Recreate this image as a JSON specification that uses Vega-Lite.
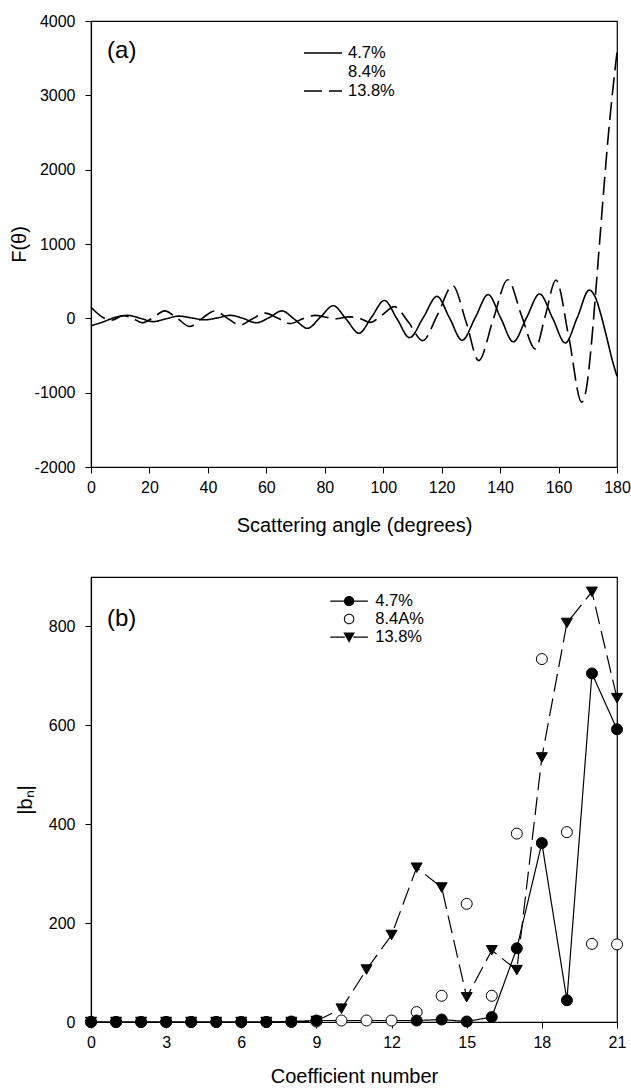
{
  "$schema": "https://vega.github.io/schema/vega-lite/v6.json",
  "background": "white",
  "padding": {"left": 8, "top": 12, "right": 0, "bottom": 0},
  "bounds": "flush",
  "spacing": 110,
  "config": {
    "font": "Liberation Sans",
    "view": {"stroke": "black", "strokeWidth": 1.2},
    "axis": {
      "grid": false,
      "domainColor": "black",
      "domainWidth": 1.2,
      "tickColor": "black",
      "tickWidth": 1,
      "tickSize": 6,
      "labelColor": "black",
      "labelFont": "Liberation Sans",
      "labelFontSize": 16,
      "titleFont": "Liberation Sans",
      "titleFontSize": 20,
      "titleFontWeight": "normal",
      "titleColor": "black",
      "labelFlush": false,
      "labelOverlap": false
    },
    "axisX": {"labelPadding": 6, "titlePadding": 16},
    "axisY": {"labelPadding": 10},
    "legend": {"labelFont": "Liberation Sans", "labelColor": "black"}
  },
  "vconcat": [
    {
      "width": 526,
      "height": 446,
      "layer": [
        {
          "data": {"values": [
            {"angle": 0, "series": "4.7%", "F": -100},
            {"angle": 4, "series": "4.7%", "F": -50},
            {"angle": 8, "series": "4.7%", "F": 10},
            {"angle": 12.5, "series": "4.7%", "F": 40},
            {"angle": 17, "series": "4.7%", "F": 0},
            {"angle": 21.3, "series": "4.7%", "F": -45},
            {"angle": 25.7, "series": "4.7%", "F": -5},
            {"angle": 30.1, "series": "4.7%", "F": 30},
            {"angle": 34.5, "series": "4.7%", "F": 5},
            {"angle": 38.9, "series": "4.7%", "F": -20},
            {"angle": 43.3, "series": "4.7%", "F": 5},
            {"angle": 47.7, "series": "4.7%", "F": 40},
            {"angle": 52, "series": "4.7%", "F": 0},
            {"angle": 56.5, "series": "4.7%", "F": -60},
            {"angle": 61, "series": "4.7%", "F": 10},
            {"angle": 65.3, "series": "4.7%", "F": 100},
            {"angle": 69.7, "series": "4.7%", "F": -15},
            {"angle": 74.1, "series": "4.7%", "F": -134},
            {"angle": 78.5, "series": "4.7%", "F": 15},
            {"angle": 82.9, "series": "4.7%", "F": 170},
            {"angle": 87.3, "series": "4.7%", "F": -10},
            {"angle": 91.7, "series": "4.7%", "F": -200},
            {"angle": 96, "series": "4.7%", "F": 15},
            {"angle": 100.4, "series": "4.7%", "F": 240},
            {"angle": 104.7, "series": "4.7%", "F": -5},
            {"angle": 109, "series": "4.7%", "F": -260},
            {"angle": 113.7, "series": "4.7%", "F": 10},
            {"angle": 118.4, "series": "4.7%", "F": 295},
            {"angle": 122.7, "series": "4.7%", "F": 5},
            {"angle": 127, "series": "4.7%", "F": -295},
            {"angle": 131.5, "series": "4.7%", "F": 10},
            {"angle": 135.9, "series": "4.7%", "F": 319},
            {"angle": 140.2, "series": "4.7%", "F": 5},
            {"angle": 144.5, "series": "4.7%", "F": -315},
            {"angle": 149, "series": "4.7%", "F": 5},
            {"angle": 153.5, "series": "4.7%", "F": 328},
            {"angle": 158, "series": "4.7%", "F": 0},
            {"angle": 162.3, "series": "4.7%", "F": -331},
            {"angle": 166.4, "series": "4.7%", "F": 10},
            {"angle": 170.5, "series": "4.7%", "F": 380},
            {"angle": 172.5, "series": "4.7%", "F": 290},
            {"angle": 174.7, "series": "4.7%", "F": 20},
            {"angle": 176.5, "series": "4.7%", "F": -260},
            {"angle": 178.3, "series": "4.7%", "F": -550},
            {"angle": 180, "series": "4.7%", "F": -780},
            {"angle": 0, "series": "13.8%", "F": 150},
            {"angle": 4.6, "series": "13.8%", "F": 0},
            {"angle": 7, "series": "13.8%", "F": -25},
            {"angle": 11, "series": "13.8%", "F": 35},
            {"angle": 14, "series": "13.8%", "F": 5},
            {"angle": 17.5, "series": "13.8%", "F": -60},
            {"angle": 21.3, "series": "13.8%", "F": 10},
            {"angle": 25.2, "series": "13.8%", "F": 100},
            {"angle": 29.5, "series": "13.8%", "F": 0},
            {"angle": 33.8, "series": "13.8%", "F": -110},
            {"angle": 38, "series": "13.8%", "F": 0},
            {"angle": 42.4, "series": "13.8%", "F": 100},
            {"angle": 46.7, "series": "13.8%", "F": 0},
            {"angle": 51, "series": "13.8%", "F": -90},
            {"angle": 55.3, "series": "13.8%", "F": -5},
            {"angle": 59.6, "series": "13.8%", "F": 70},
            {"angle": 64, "series": "13.8%", "F": 0},
            {"angle": 68.2, "series": "13.8%", "F": -70},
            {"angle": 72.5, "series": "13.8%", "F": -5},
            {"angle": 76.8, "series": "13.8%", "F": 40},
            {"angle": 80.5, "series": "13.8%", "F": 15},
            {"angle": 84, "series": "13.8%", "F": -5},
            {"angle": 88, "series": "13.8%", "F": 20},
            {"angle": 92, "series": "13.8%", "F": 0},
            {"angle": 95.5, "series": "13.8%", "F": -55},
            {"angle": 99.5, "series": "13.8%", "F": 40},
            {"angle": 103.8, "series": "13.8%", "F": 157},
            {"angle": 108.6, "series": "13.8%", "F": -50},
            {"angle": 113.5, "series": "13.8%", "F": -300},
            {"angle": 118.6, "series": "13.8%", "F": 50},
            {"angle": 123.8, "series": "13.8%", "F": 440},
            {"angle": 128.3, "series": "13.8%", "F": -40},
            {"angle": 132.7, "series": "13.8%", "F": -569},
            {"angle": 137.6, "series": "13.8%", "F": -20},
            {"angle": 142.6, "series": "13.8%", "F": 520},
            {"angle": 147.3, "series": "13.8%", "F": 40},
            {"angle": 152, "series": "13.8%", "F": -412},
            {"angle": 155.5, "series": "13.8%", "F": 40},
            {"angle": 159.1, "series": "13.8%", "F": 516},
            {"angle": 163.5, "series": "13.8%", "F": -250},
            {"angle": 167.9, "series": "13.8%", "F": -1128},
            {"angle": 169.5, "series": "13.8%", "F": -950},
            {"angle": 171, "series": "13.8%", "F": -450},
            {"angle": 172.5, "series": "13.8%", "F": 250},
            {"angle": 174, "series": "13.8%", "F": 1000},
            {"angle": 175.5, "series": "13.8%", "F": 1750},
            {"angle": 177, "series": "13.8%", "F": 2450},
            {"angle": 178.5, "series": "13.8%", "F": 3050},
            {"angle": 180, "series": "13.8%", "F": 3580}
          ]},
          "mark": {"type": "line", "interpolate": "monotone", "strokeWidth": 1.6, "color": "black"},
          "encoding": {
            "x": {"field": "angle", "type": "quantitative",
                  "scale": {"domain": [0, 180], "nice": false},
                  "axis": {"values": [0, 20, 40, 60, 80, 100, 120, 140, 160, 180], "title": "Scattering angle (degrees)", "titlePadding": 20}},
            "y": {"field": "F", "type": "quantitative",
                  "scale": {"domain": [-2000, 4000], "nice": false},
                  "axis": {"values": [-2000, -1000, 0, 1000, 2000, 3000, 4000], "labelExpr": "'' + datum.value", "title": "F(θ)", "titlePadding": 5}},
            "strokeDash": {"field": "series", "type": "nominal",
                  "scale": {"domain": ["4.7%", "8.4%", "13.8%"], "range": [[1, 0], [0, 100], [18, 7]]},
                  "legend": {"title": null, "orient": "none", "legendX": 221.5, "legendY": 21.5, "padding": 0,
                             "symbolType": "M-2,0L2,0", "symbolSize": 361, "symbolStrokeWidth": 1.6, "symbolStrokeColor": "black",
                             "labelOffset": 14.5, "rowPadding": -1, "labelFontSize": 16.5}}
          }
        },
        {
          "data": {"values": [{"label": "(a)"}]},
          "mark": {"type": "text", "align": "left", "baseline": "middle", "fontSize": 24, "font": "Liberation Sans", "color": "black"},
          "encoding": {
            "text": {"field": "label", "type": "nominal"},
            "x": {"datum": 5.5, "type": "quantitative"},
            "y": {"datum": 3600, "type": "quantitative"}
          }
        }
      ]
    },
    {
      "width": 526,
      "height": 445,
      "layer": [
        {
          "data": {"values": [
            {"n": 0, "series": "8.4A%", "b": 0},
            {"n": 1, "series": "8.4A%", "b": 0},
            {"n": 2, "series": "8.4A%", "b": 0},
            {"n": 3, "series": "8.4A%", "b": 0},
            {"n": 4, "series": "8.4A%", "b": 0},
            {"n": 5, "series": "8.4A%", "b": 0},
            {"n": 6, "series": "8.4A%", "b": 0},
            {"n": 7, "series": "8.4A%", "b": 0},
            {"n": 8, "series": "8.4A%", "b": 0},
            {"n": 9, "series": "8.4A%", "b": 1},
            {"n": 10, "series": "8.4A%", "b": 3},
            {"n": 11, "series": "8.4A%", "b": 3},
            {"n": 12, "series": "8.4A%", "b": 3},
            {"n": 13, "series": "8.4A%", "b": 20},
            {"n": 14, "series": "8.4A%", "b": 53},
            {"n": 15, "series": "8.4A%", "b": 239},
            {"n": 16, "series": "8.4A%", "b": 53},
            {"n": 17, "series": "8.4A%", "b": 381},
            {"n": 18, "series": "8.4A%", "b": 734},
            {"n": 19, "series": "8.4A%", "b": 384},
            {"n": 20, "series": "8.4A%", "b": 158},
            {"n": 21, "series": "8.4A%", "b": 157},
            {"n": 0, "series": "13.8%", "b": 0},
            {"n": 1, "series": "13.8%", "b": 0},
            {"n": 2, "series": "13.8%", "b": 0},
            {"n": 3, "series": "13.8%", "b": 0},
            {"n": 4, "series": "13.8%", "b": 0},
            {"n": 5, "series": "13.8%", "b": 0},
            {"n": 6, "series": "13.8%", "b": 0},
            {"n": 7, "series": "13.8%", "b": 0},
            {"n": 8, "series": "13.8%", "b": 0},
            {"n": 9, "series": "13.8%", "b": 2},
            {"n": 10, "series": "13.8%", "b": 27},
            {"n": 11, "series": "13.8%", "b": 106},
            {"n": 12, "series": "13.8%", "b": 176},
            {"n": 13, "series": "13.8%", "b": 312},
            {"n": 14, "series": "13.8%", "b": 272},
            {"n": 15, "series": "13.8%", "b": 50},
            {"n": 16, "series": "13.8%", "b": 145},
            {"n": 17, "series": "13.8%", "b": 105},
            {"n": 18, "series": "13.8%", "b": 535},
            {"n": 19, "series": "13.8%", "b": 807},
            {"n": 20, "series": "13.8%", "b": 870},
            {"n": 21, "series": "13.8%", "b": 655},
            {"n": 0, "series": "4.7%", "b": 0},
            {"n": 1, "series": "4.7%", "b": 0},
            {"n": 2, "series": "4.7%", "b": 0},
            {"n": 3, "series": "4.7%", "b": 0},
            {"n": 4, "series": "4.7%", "b": 0},
            {"n": 5, "series": "4.7%", "b": 0},
            {"n": 6, "series": "4.7%", "b": 0},
            {"n": 7, "series": "4.7%", "b": 0},
            {"n": 8, "series": "4.7%", "b": 1},
            {"n": 9, "series": "4.7%", "b": 3},
            {"n": 13, "series": "4.7%", "b": 3},
            {"n": 14, "series": "4.7%", "b": 5},
            {"n": 15, "series": "4.7%", "b": 1},
            {"n": 16, "series": "4.7%", "b": 10},
            {"n": 17, "series": "4.7%", "b": 149},
            {"n": 18, "series": "4.7%", "b": 362},
            {"n": 19, "series": "4.7%", "b": 44},
            {"n": 20, "series": "4.7%", "b": 705},
            {"n": 21, "series": "4.7%", "b": 592}
          ]},
          "encoding": {
            "x": {"field": "n", "type": "quantitative",
                  "scale": {"domain": [0, 21], "nice": false},
                  "axis": {"values": [0, 3, 6, 9, 12, 15, 18, 21], "title": "Coefficient number"}},
            "y": {"field": "b", "type": "quantitative",
                  "scale": {"domain": [0, 900], "nice": false},
                  "axis": {"values": [0, 200, 400, 600, 800], "format": "d", "title": "|bₙ|", "titlePadding": 13}}
          },
          "layer": [
            {
              "transform": [{"filter": "datum.series != '8.4A%'"}],
              "mark": {"type": "line", "color": "black", "strokeWidth": 1.2},
              "encoding": {
                "detail": {"field": "series", "type": "nominal"},
                "strokeDash": {"field": "series", "type": "nominal",
                               "scale": {"domain": ["4.7%", "13.8%"], "range": [[1, 0], [14, 6]]},
                               "legend": null}
              }
            },
            {
              "transform": [{"filter": "false"}],
              "mark": {"type": "point", "filled": true, "color": "black", "opacity": 1},
              "encoding": {
                "shape": {"field": "series", "type": "nominal",
                          "scale": {"domain": ["4.7%", "8.4A%", "13.8%"],
                                    "range": ["M-2,-0.065L-0.5,-0.065L-0.5,0.065L-2,0.065ZM0.5,-0.065L2,-0.065L2,0.065L0.5,0.065ZM0.55,0A0.55,0.55,0,1,1,-0.55,0A0.55,0.55,0,1,1,0.55,0Z",
                                              "M0.56,0A0.56,0.56,0,1,1,-0.56,0A0.56,0.56,0,1,1,0.56,0ZM0.45,0A0.45,0.45,0,1,0,-0.45,0A0.45,0.45,0,1,0,0.45,0Z",
                                              "M-2,-0.065L-0.45,-0.065L-0.45,0.065L-2,0.065ZM0.45,-0.065L2,-0.065L2,0.065L0.45,0.065ZM-0.62,-0.5L0.62,-0.5L0,0.6Z"]},
                          "legend": {"title": null, "orient": "none", "legendX": 248.6, "legendY": 570.6, "padding": 0,
                                     "symbolSize": 353, "symbolFillColor": "black", "symbolStrokeWidth": 0, "symbolOpacity": 1,
                                     "labelOffset": 16.6, "rowPadding": -2, "labelFontSize": 16.5}}
              }
            },
            {
              "transform": [{"filter": "datum.series == '8.4A%'"}],
              "mark": {"type": "point", "shape": "circle", "filled": true, "fill": "white", "stroke": "black", "strokeWidth": 1, "opacity": 1, "size": 121}
            },
            {
              "transform": [{"filter": "datum.series == '13.8%'"}],
              "mark": {"type": "point", "shape": "triangle-down", "filled": true, "fill": "black", "stroke": "black", "strokeWidth": 1, "opacity": 1, "size": 121}
            },
            {
              "transform": [{"filter": "datum.series == '4.7%'"}],
              "mark": {"type": "point", "shape": "circle", "filled": true, "fill": "black", "stroke": "black", "strokeWidth": 1, "opacity": 1, "size": 121}
            }
          ]
        },
        {
          "data": {"values": [{"label": "(b)"}]},
          "mark": {"type": "text", "align": "left", "baseline": "middle", "fontSize": 24, "font": "Liberation Sans", "color": "black"},
          "encoding": {
            "text": {"field": "label", "type": "nominal"},
            "x": {"datum": 0.64, "type": "quantitative"},
            "y": {"datum": 815, "type": "quantitative"}
          }
        }
      ]
    }
  ]
}
